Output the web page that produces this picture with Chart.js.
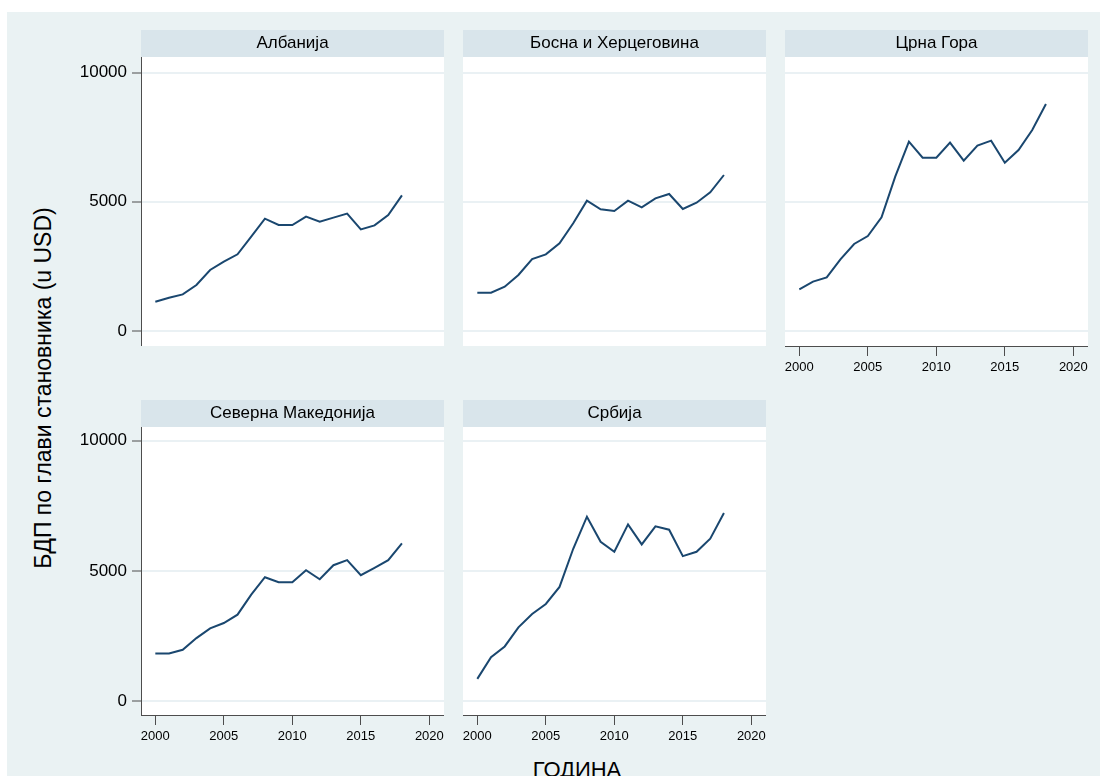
<!DOCTYPE html>
<html>
<head>
<meta charset="utf-8">
<script src="https://cdn.jsdelivr.net/npm/chart.js@4"></script>
<style>
  body { margin: 0; background: #fff; }
  #wrap { position: relative; width: 1100px; height: 776px; overflow: hidden; font-family: "Liberation Sans", Arial, sans-serif; }
  #bg { position: absolute; left: 7px; top: 12px; width: 1093px; height: 764px; background: #eaf2f3; }
  canvas { position: absolute; }
  #ytitle { position: absolute; left: -157px; top: 375px; width: 400px; height: 26px; line-height: 26px;
            font-size: 23px; text-align: center; color: #000; transform: rotate(-90deg); white-space: nowrap; }
  #xtitle { position: absolute; left: 477px; top: 759px; width: 200px; height: 22px; line-height: 22px;
            font-size: 22px; text-align: center; color: #000; }
</style>
</head>
<body>
<div id="wrap">
  <div id="bg"></div>
  <div id="ytitle">БДП по глави становника (u USD)</div>
  <div id="xtitle">ГОДИНА</div>
</div>
<script>
// data (GDP per capita, USD)
const years = [2000, 2001, 2002, 2003, 2004, 2005, 2006, 2007, 2008, 2009,
               2010, 2011, 2012, 2013, 2014, 2015, 2016, 2017, 2018];
const albania    = [1133, 1288, 1418, 1779, 2360, 2682, 2966, 3649, 4345, 4100, 4100, 4423, 4230, 4385, 4540, 3932, 4087, 4487, 5248];
const bosnia     = [1482, 1482, 1714, 2166, 2785, 2966, 3392, 4166, 5041, 4707, 4642, 5041, 4785, 5133, 5300, 4720, 4963, 5365, 6035];
const montenegro = [1612, 1909, 2075, 2772, 3366, 3675, 4397, 5970, 7325, 6706, 6706, 7286, 6589, 7170, 7363, 6512, 7002, 7776, 8781];
const macedonia  = [1824, 1824, 1967, 2417, 2789, 2996, 3317, 4088, 4756, 4563, 4563, 5025, 4679, 5218, 5411, 4833, 5118, 5411, 6055];
const serbia     = [848, 1684, 2095, 2828, 3342, 3728, 4383, 5849, 7083, 6119, 5734, 6787, 6016, 6710, 6581, 5566, 5734, 6235, 7223];

const panelNames = ['Албанија', 'Босна и Херцеговина', 'Црна Гора', 'Северна Македонија', 'Србија'];
const panelValues = [albania, bosnia, montenegro, macedonia, serbia];
const yTicks = [0, 5000, 10000];
const yTickLabels = ['0', '5000', '10000'];
const xTicks = [2000, 2005, 2010, 2015, 2020];
const xTickLabels = ['2000', '2005', '2010', '2015', '2020'];

// layout of the panels (pixels)
const cols = [141, 463, 785];
const rows = [{ top: 30, bottom: 346, ymin: -580, ymax: 10600 },
              { top: 400, bottom: 715, ymin: -540, ymax: 10530 }];
const panelPos = [
  { col: 0, row: 0, hasY: true,  hasX: false },
  { col: 1, row: 0, hasY: false, hasX: false },
  { col: 2, row: 0, hasY: false, hasX: true },
  { col: 0, row: 1, hasY: true,  hasX: true },
  { col: 1, row: 1, hasY: false, hasX: true }
];
const panelW = 303;
const yAxisW = 60;
const xAxisH = 40;

const lineColor = '#1a476f';
const bandColor = '#d9e5eb';
const gridColor = '#eaf1f4';
const axisColor = '#4d4d4d';

// paints the header band and the white plot area
const panelBg = {
  id: 'panelBg',
  beforeDraw(chart) {
    const ctx = chart.ctx;
    const a = chart.chartArea;
    ctx.save();
    ctx.fillStyle = bandColor;
    ctx.fillRect(a.left, 0, a.right - a.left, a.top);
    ctx.fillStyle = '#ffffff';
    ctx.fillRect(a.left, a.top, a.right - a.left, a.bottom - a.top);
    ctx.restore();
  }
};

const wrap = document.getElementById('wrap');

panelPos.forEach((p, i) => {
  const r = rows[p.row];
  const canvas = document.createElement('canvas');
  const w = panelW + (p.hasY ? yAxisW : 0);
  const h = (r.bottom - r.top) + (p.hasX ? xAxisH : 0);
  canvas.width = w;
  canvas.height = h;
  canvas.style.left = (cols[p.col] - (p.hasY ? yAxisW : 0)) + 'px';
  canvas.style.top = r.top + 'px';
  canvas.style.width = w + 'px';
  canvas.style.height = h + 'px';
  wrap.appendChild(canvas);

  new Chart(canvas, {
    type: 'line',
    data: {
      datasets: [{
        data: years.map((yr, k) => ({ x: yr, y: panelValues[i][k] })),
        borderColor: lineColor,
        borderWidth: 2,
        pointRadius: 0,
        tension: 0,
        fill: false
      }]
    },
    options: {
      responsive: false,
      animation: false,
      devicePixelRatio: 1,
      layout: { padding: 0, autoPadding: false },
      plugins: {
        legend: { display: false },
        tooltip: { enabled: false },
        title: {
          display: true,
          text: panelNames[i],
          fullSize: false,
          color: '#000',
          font: { family: 'Liberation Sans', size: 17, weight: 'normal', lineHeight: '19px' },
          padding: { top: 4, bottom: 4 }
        }
      },
      scales: {
        x: {
          type: 'linear',
          min: 1998.955,
          max: 2021.07,
          afterBuildTicks: s => { s.ticks = xTicks.map(v => ({ value: v })); },
          afterFit: s => { s.height = p.hasX ? xAxisH : 0; s.paddingLeft = 0; s.paddingRight = 0; },
          ticks: {
            display: p.hasX,
            color: '#000',
            padding: 4,
            maxRotation: 0,
            autoSkip: false,
            font: { family: 'Liberation Sans', size: 13 },
            callback: (v) => xTickLabels[xTicks.indexOf(v)]
          },
          grid: {
            display: p.hasX,
            drawOnChartArea: false,
            drawTicks: true,
            tickLength: 10,
            tickColor: axisColor,
            tickWidth: 1
          },
          border: { display: p.hasX, color: axisColor, width: 1 }
        },
        y: {
          type: 'linear',
          min: r.ymin,
          max: r.ymax,
          afterBuildTicks: s => { s.ticks = yTicks.map(v => ({ value: v })); },
          afterFit: s => { s.width = p.hasY ? yAxisW : 0; s.paddingTop = 0; s.paddingBottom = 0; },
          ticks: {
            display: p.hasY,
            color: '#000',
            padding: 5,
            font: { family: 'Liberation Sans', size: 17 },
            callback: (v) => yTickLabels[yTicks.indexOf(v)]
          },
          grid: {
            color: gridColor,
            lineWidth: 2,
            drawTicks: p.hasY,
            tickLength: 9,
            tickColor: axisColor,
            tickWidth: 1
          },
          border: { display: p.hasY, color: axisColor, width: 1 }
        }
      }
    },
    plugins: [panelBg]
  });
});
</script>
</body>
</html>
